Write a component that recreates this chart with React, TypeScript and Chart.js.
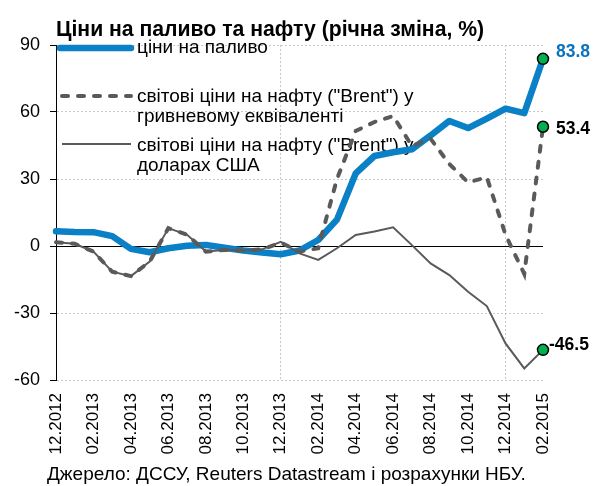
import React, { useEffect, useRef } from "react";
import { Chart, registerables } from "chart.js";

Chart.register(...registerables);

const FONT = "'Liberation Sans', Arial, sans-serif";

const months = [
  "12.2012", "01.2013", "02.2013", "03.2013", "04.2013", "05.2013", "06.2013",
  "07.2013", "08.2013", "09.2013", "10.2013", "11.2013", "12.2013", "01.2014",
  "02.2014", "03.2014", "04.2014", "05.2014", "06.2014", "07.2014", "08.2014",
  "09.2014", "10.2014", "11.2014", "12.2014", "01.2015", "02.2015",
];

const fuelPrices = [
  6.6, 6.3, 6.2, 4.4, -1.3, -2.8, -1.0, 0.1, 0.5, -0.8, -2.0, -2.9, -3.7, -2.0,
  2.7, 11.8, 32.5, 40.3, 42.0, 43.3, 49.5, 56.0, 52.8, 57.0, 61.5, 59.5, 83.8,
];

const brentUah = [
  1.7, 1.0, -2.5, -11.5, -13.5, -7.0, 8.0, 5.0, -2.5, -1.8, -2.0, -1.5, 1.5, -2.5,
  -1.0, 30.0, 51.5, 55.5, 58.2, 44.8, 48.0, 36.7, 28.5, 30.8, 5.0, -12.5, 53.4,
];

const brentUsd = [
  1.7, 1.0, -2.5, -11.5, -13.5, -7.0, 8.0, 5.0, -2.5, -1.8, -2.0, -1.5, 1.9, -3.3,
  -6.2, -1.0, 4.9, 6.5, 8.4, 0.4, -7.8, -13.0, -20.5, -26.9, -43.6, -54.8, -46.5,
];

const yMin = -60;
const yMax = 90;
const yStep = 30;

const titleText = "Ціни на паливо та нафту (річна зміна, %)";
const sourceText = "Джерело: ДССУ, Reuters Datastream і розрахунки НБУ.";
const legendFuel = ["ціни на паливо"];
const legendUah = ["світові ціни на нафту (\"Brent\") у", "гривневому еквіваленті"];
const legendUsd = ["світові ціни на нафту (\"Brent\") у", "доларах США"];

const BLUE = "#0a80c6";
const BLUE_LABEL = "#0a72c0";
const GRAY = "#5a5a5a";
const GREEN = "#00b050";

const lastIdx = months.length - 1;

const overlayPlugin = {
  id: "overlay",
  beforeDatasetsDraw(chart: any) {
    const { ctx, chartArea } = chart;
    const y = chart.scales.y;
    const y0 = Math.round(y.getPixelForValue(0)) + 0.5;
    ctx.save();
    ctx.strokeStyle = "#000";
    ctx.lineWidth = 1;
    ctx.beginPath();
    ctx.moveTo(chartArea.left, y0);
    ctx.lineTo(chartArea.right, y0);
    ctx.stroke();

    // legend
    const lx1 = 60;
    const lx2 = 131;
    const tx = 137;
    ctx.lineCap = "round";
    ctx.strokeStyle = BLUE;
    ctx.lineWidth = 6.5;
    ctx.beginPath();
    ctx.moveTo(lx1, 48);
    ctx.lineTo(lx2, 48);
    ctx.stroke();

    ctx.strokeStyle = GRAY;
    ctx.lineWidth = 4;
    ctx.setLineDash([6, 10]);
    ctx.beginPath();
    ctx.moveTo(lx1 + 2, 96);
    ctx.lineTo(lx2, 96);
    ctx.stroke();
    ctx.setLineDash([]);

    ctx.lineCap = "butt";
    ctx.lineWidth = 2;
    ctx.beginPath();
    ctx.moveTo(lx1 + 2, 144);
    ctx.lineTo(lx2, 144);
    ctx.stroke();

    ctx.fillStyle = "#000";
    ctx.font = `19px ${FONT}`;
    ctx.textBaseline = "middle";
    ctx.textAlign = "left";
    legendFuel.forEach((t, i) => ctx.fillText(t, tx, 48 + i * 20));
    legendUah.forEach((t, i) => ctx.fillText(t, tx, 97 + i * 20));
    legendUsd.forEach((t, i) => ctx.fillText(t, tx, 146 + i * 20));
    ctx.restore();
  },
  afterDraw(chart: any) {
    const { ctx } = chart;
    const x = chart.scales.x;
    const y = chart.scales.y;
    ctx.save();
    ctx.fillStyle = "#000";
    ctx.textAlign = "left";
    ctx.textBaseline = "alphabetic";
    ctx.font = `bold 21.2px ${FONT}`;
    ctx.fillText(titleText, 56, 36);
    ctx.font = `19px ${FONT}`;
    ctx.fillText(sourceText, 47, 480);

    const xl = x.getPixelForValue(lastIdx);
    ctx.font = `bold 17.5px ${FONT}`;
    ctx.textBaseline = "middle";
    ctx.fillStyle = BLUE_LABEL;
    ctx.fillText(fuelPrices[lastIdx].toFixed(1), xl + 13, y.getPixelForValue(fuelPrices[lastIdx]) - 7);
    ctx.fillStyle = "#000";
    ctx.fillText(brentUah[lastIdx].toFixed(1), xl + 13, y.getPixelForValue(brentUah[lastIdx]) + 2);
    ctx.fillText(brentUsd[lastIdx].toFixed(1), xl + 6, y.getPixelForValue(brentUsd[lastIdx]) - 5);
    ctx.restore();
  },
};

const endPoint = (ctx: any) => (ctx.dataIndex === lastIdx ? 5.5 : 0);

export default function App() {
  const ref = useRef<HTMLCanvasElement | null>(null);

  useEffect(() => {
    if (!ref.current) return;
    const chart = new Chart(ref.current, {
      type: "line",
      data: {
        labels: months,
        datasets: [
          {
            label: "uah",
            data: brentUah,
            borderColor: GRAY,
            borderWidth: 4,
            borderDash: [6, 10],
            borderCapStyle: "round",
            tension: 0,
            pointRadius: endPoint,
            pointBackgroundColor: GREEN,
            pointBorderColor: "#000",
            pointBorderWidth: 1.5,
          },
          {
            label: "usd",
            data: brentUsd,
            borderColor: GRAY,
            borderWidth: 2,
            tension: 0,
            pointRadius: endPoint,
            pointBackgroundColor: GREEN,
            pointBorderColor: "#000",
            pointBorderWidth: 1.5,
          },
          {
            label: "fuel",
            data: fuelPrices,
            borderColor: BLUE,
            borderWidth: 6.5,
            borderJoinStyle: "round",
            borderCapStyle: "round",
            tension: 0,
            pointRadius: endPoint,
            pointBackgroundColor: GREEN,
            pointBorderColor: "#000",
            pointBorderWidth: 1.5,
          },
        ],
      },
      options: {
        responsive: false,
        animation: false,
        devicePixelRatio: 1,
        layout: { padding: { top: 45, right: 52, left: 0, bottom: 0 } },
        plugins: {
          legend: { display: false },
          tooltip: { enabled: false },
          title: { display: false },
        },
        scales: {
          x: {
            type: "category",
            offset: false,
            grid: {
              color: (c: any) => (c.index === 12 || c.index === 24 ? "#c8c8c8" : "transparent"),
              drawTicks: false,
              lineWidth: 1,
            },
            border: { display: false, dash: [2, 2] },
            ticks: {
              autoSkip: false,
              maxRotation: 90,
              minRotation: 90,
              padding: 13,
              color: "#000",
              font: { family: FONT, size: 17 },
              callback: (_v: any, i: number) => (i % 2 === 0 ? months[i] : ""),
            },
            afterFit: (s: any) => {
              s.height = 106;
            },
          },
          y: {
            min: yMin,
            max: yMax,
            ticks: {
              stepSize: yStep,
              color: "#000",
              padding: 10,
              font: { family: FONT, size: 18 },
            },
            grid: {
              color: (c: any) => (c.tick && c.tick.value === 0 ? "transparent" : "#c8c8c8"),
              tickColor: "#000",
              tickLength: 6,
              lineWidth: 1,
            },
            border: { display: true, color: "#000", width: 1, dash: [2, 2] },
            afterFit: (s: any) => {
              s.width = 56;
            },
          },
        },
      },
      plugins: [overlayPlugin],
    } as any);
    return () => chart.destroy();
  }, []);

  return (
    <div style={{ position: "fixed", left: 0, top: 0, width: 595, height: 486, background: "#fff" }}>
      <canvas ref={ref} width={595} height={486} style={{ display: "block" }} />
    </div>
  );
}
